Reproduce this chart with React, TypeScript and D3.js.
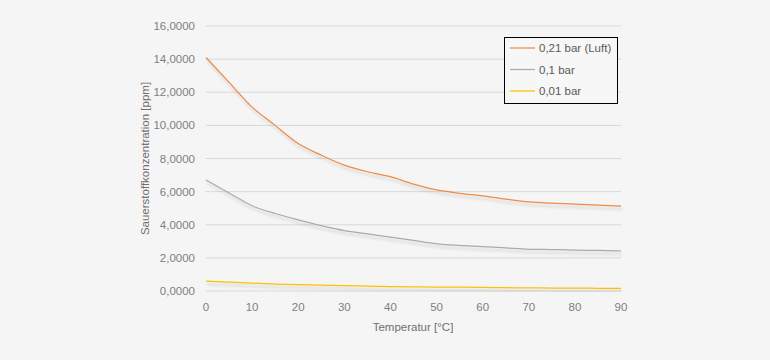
import React from "react";
import * as d3 from "d3";

const temps = [0, 5, 10, 15, 20, 25, 30, 35, 40, 45, 50, 55, 60, 65, 70, 75, 80, 85, 90];
const luft = [14.1, 12.6, 11.1, 10.0, 8.9, 8.2, 7.6, 7.2, 6.9, 6.45, 6.1, 5.9, 5.75, 5.55, 5.38, 5.3, 5.25, 5.18, 5.13];
const bar01 = [6.7, 5.92, 5.15, 4.68, 4.3, 3.95, 3.65, 3.45, 3.25, 3.05, 2.85, 2.75, 2.68, 2.6, 2.52, 2.5, 2.47, 2.45, 2.42];
const bar001 = [0.6, 0.53, 0.47, 0.42, 0.38, 0.35, 0.32, 0.3, 0.27, 0.25, 0.24, 0.23, 0.22, 0.2, 0.19, 0.18, 0.17, 0.165, 0.16];
const seriesNames = ["0,21 bar (Luft)", "0,1 bar", "0,01 bar"];
const seriesColors = ["#F08A45", "#AAAAAA", "#FFC000"];
const yTicks = [0, 2, 4, 6, 8, 10, 12, 14, 16];
const xTicks = [0, 10, 20, 30, 40, 50, 60, 70, 80, 90];

export default function App() {
  const W = 770, H = 360;
  const x = d3.scaleLinear().domain([0, 90]).range([206, 621]);
  const y = d3.scaleLinear().domain([0, 16]).range([291, 26]);
  const series = [luft, bar01, bar001];
  const line = d3.line<[number, number]>().x(d => x(d[0])).y(d => y(d[1])).curve(d3.curveMonotoneX);
  const font = "'Liberation Sans', Arial, sans-serif";
  const fmt = (v: number) => v.toFixed(4).replace(".", ",");
  return (
    <svg width={W} height={H} style={{ position: "absolute", left: 0, top: 0 }} fontFamily={font}>
      <defs>
        <filter id="sh" x="-5%" y="-20%" width="110%" height="160%">
          <feGaussianBlur in="SourceAlpha" stdDeviation="1.5" />
          <feOffset dx="1" dy="2.5" result="b" />
          <feComponentTransfer><feFuncA type="linear" slope="0.18" /></feComponentTransfer>
          <feMerge><feMergeNode /><feMergeNode in="SourceGraphic" /></feMerge>
        </filter>
      </defs>
      <rect width={W} height={H} fill="#f5f5f5" />
      {yTicks.map(t => (
        <g key={t}>
          <line x1={x(0)} x2={x(90)} y1={y(t)} y2={y(t)} stroke="#d9d9d9" strokeWidth={1} />
          <text x={195} y={y(t)} dy="0.35em" textAnchor="end" fontSize={11.5} fill="#808080">{fmt(t)}</text>
        </g>
      ))}
      {xTicks.map(t => (
        <text key={t} x={x(t)} y={307} dy="0.35em" textAnchor="middle" fontSize={11.5} fill="#808080">{t}</text>
      ))}
      <text x={413} y={327} dy="0.35em" textAnchor="middle" fontSize={11.5} fill="#707070">Temperatur [°C]</text>
      <text transform={`translate(145,${y(8)}) rotate(-90)`} dy="0.35em" textAnchor="middle" fontSize={11.5} fill="#707070">Sauerstoffkonzentration [ppm]</text>
      {series.map((s, i) => (
        <path key={i} d={line(temps.map((t, j) => [t, s[j]] as [number, number])) || ""} fill="none" stroke={seriesColors[i]} strokeWidth={1.25} filter="url(#sh)" />
      ))}
      <g>
        <rect x={504.5} y={37.5} width={113} height={66} fill="#f7f7f7" stroke="#000" strokeWidth={1} />
        {seriesNames.map((n, i) => (
          <g key={n}>
            <line x1={510} x2={535} y1={48 + i * 21.5} y2={48 + i * 21.5} stroke={seriesColors[i]} strokeWidth={1.25} />
            <text x={539} y={48 + i * 21.5} dy="0.35em" fontSize={11.5} fill="#595959">{n}</text>
          </g>
        ))}
      </g>
    </svg>
  );
}
